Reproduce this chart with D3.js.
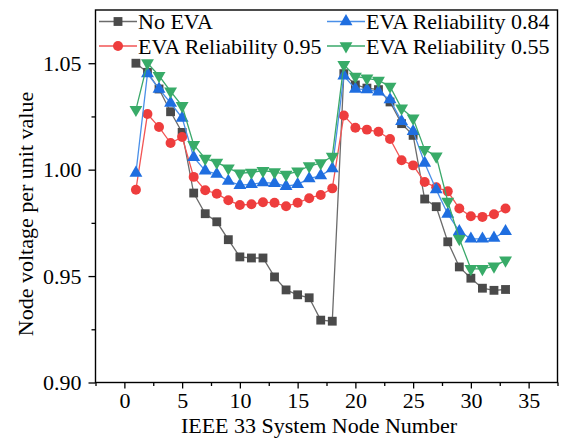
<!DOCTYPE html>
<html>
<head>
<meta charset="utf-8">
<script src="https://cdn.jsdelivr.net/npm/d3@7"></script>
<style>
  body { margin: 0; background: #fff; }
  svg { display: block; }
  svg text { font-family: "Liberation Serif", "Times New Roman", serif; }
</style>
</head>
<body>
<svg id="chart"></svg>
<script>
// node numbers 1..33
const nodes = d3.range(1, 34);

const noEva = [1.0500, 1.0457, 1.0379, 1.0272, 1.0175, 0.9890, 0.9793, 0.9755, 0.9671, 0.9590,
  0.9585, 0.9585, 0.9496, 0.9435, 0.9412, 0.9398, 0.9293, 0.9288, 1.0451, 1.0398,
  1.0383, 1.0376, 1.0318, 1.0216, 1.0161, 0.9862, 0.9826, 0.9661, 0.9543, 0.9490,
  0.9443, 0.9433, 0.9437];

const eva95 = [0.9906, 1.0261, 1.0200, 1.0125, 1.0153, 0.9966, 0.9903, 0.9887, 0.9856, 0.9834,
  0.9837, 0.9847, 0.9844, 0.9828, 0.9844, 0.9866, 0.9881, 0.9912, 1.0254, 1.0197,
  1.0188, 1.0178, 1.0144, 1.0044, 1.0020, 0.9942, 0.9917, 0.9898, 0.9817, 0.9781,
  0.9778, 0.9790, 0.9817];

const eva84 = [0.9984, 1.0451, 1.0379, 1.0313, 1.0243, 1.0058, 0.9995, 0.9979, 0.9946, 0.9927,
  0.9931, 0.9939, 0.9936, 0.9922, 0.9931, 0.9958, 0.9972, 1.0005, 1.0441, 1.0379,
  1.0376, 1.0366, 1.0329, 1.0227, 1.0180, 1.0031, 0.9906, 0.9792, 0.9710, 0.9675,
  0.9675, 0.9679, 0.9710];

const eva55 = [1.0282, 1.0501, 1.0441, 1.0368, 1.0300, 1.0117, 1.0052, 1.0034, 1.0007, 0.9983,
  0.9987, 0.9995, 0.9989, 0.9977, 0.9992, 1.0017, 1.0031, 1.0062, 1.0493, 1.0438,
  1.0429, 1.0419, 1.0391, 1.0288, 1.0241, 1.0094, 1.0063, 0.9851, 0.9675, 0.9534,
  0.9534, 0.9546, 0.9574];

const xTicks = [0, 5, 10, 15, 20, 25, 30, 35];
const yTicks = [0.90, 0.95, 1.00, 1.05];

const series = [
  { name: "No EVA", values: noEva, line: "#6b6b6b", fill: "#4a4a4a", symbol: d3.symbolSquare, size: 78, rot: 0 },
  { name: "EVA Reliability 0.95", values: eva95, line: "#f25555", fill: "#ee3d3d", symbol: d3.symbolCircle, size: 78, rot: 0 },
  { name: "EVA Reliability 0.84", values: eva84, line: "#4a8fe8", fill: "#1f6ee0", symbol: d3.symbolTriangle, size: 72, rot: 0 },
  { name: "EVA Reliability 0.55", values: eva55, line: "#3aa86a", fill: "#38ab68", symbol: d3.symbolTriangle, size: 72, rot: 180 }
];

const width = 573;
const height = 439;
const margin = { left: 95.5, right: 15.5, top: 10, bottom: 56.5 };
const fontSize = 22;
const serif = "'Liberation Serif', 'Times New Roman', serif";

const svg = d3.select("#chart")
  .attr("width", width)
  .attr("height", height);

svg.append("rect").attr("width", width).attr("height", height).attr("fill", "#fff");

const x = d3.scaleLinear().domain([-2.5, 37.5]).range([margin.left, width - margin.right]);
const y = d3.scaleLinear().domain([0.90, 1.075]).range([height - margin.bottom, margin.top]);

// axes
const xAxis = svg.append("g")
  .attr("transform", `translate(0,${height - margin.bottom})`)
  .call(d3.axisBottom(x).tickValues(xTicks).tickSize(6).tickPadding(4).tickFormat(d3.format("d")));

const xMinor = svg.append("g")
  .attr("transform", `translate(0,${height - margin.bottom})`)
  .call(d3.axisBottom(x).tickValues(d3.range(-2.5, 38, 5)).tickSize(3.5).tickFormat(""));

const yAxis = svg.append("g")
  .attr("transform", `translate(${margin.left},0)`)
  .call(d3.axisLeft(y).tickValues(yTicks).tickSize(7).tickPadding(7).tickFormat(d3.format(".2f")));

const yMinor = svg.append("g")
  .attr("transform", `translate(${margin.left},0)`)
  .call(d3.axisLeft(y).tickValues([0.925, 0.975, 1.025]).tickSize(4).tickFormat(""));

[xAxis, xMinor, yAxis, yMinor].forEach(g => {
  g.attr("font-family", serif).attr("font-size", fontSize);
  g.select(".domain").remove();
  g.selectAll("line").attr("stroke", "#000").attr("stroke-width", 1.3);
  g.selectAll("text").attr("fill", "#000");
});

// frame
svg.append("rect")
  .attr("x", margin.left)
  .attr("y", margin.top)
  .attr("width", width - margin.left - margin.right)
  .attr("height", height - margin.top - margin.bottom)
  .attr("fill", "none")
  .attr("stroke", "#000")
  .attr("stroke-width", 1.4);

// axis titles
svg.append("text")
  .attr("x", 319)
  .attr("y", 433)
  .attr("text-anchor", "middle")
  .attr("font-size", fontSize)
  .text("IEEE 33 System Node Number");

svg.append("text")
  .attr("transform", "translate(33,214) rotate(-90)")
  .attr("text-anchor", "middle")
  .attr("font-size", fontSize)
  .text("Node voltage per unit value");

// series
const line = d3.line()
  .x((d, i) => x(nodes[i]))
  .y(d => y(d));

series.forEach(s => {
  const g = svg.append("g");
  g.append("path")
    .datum(s.values)
    .attr("d", line)
    .attr("fill", "none")
    .attr("stroke", s.line)
    .attr("stroke-width", 1.3);

  g.selectAll("path.marker")
    .data(s.values)
    .join("path")
    .attr("class", "marker")
    .attr("d", d3.symbol().type(s.symbol).size(s.size))
    .attr("transform", (d, i) => `translate(${x(nodes[i])},${y(d)}) rotate(${s.rot})`)
    .attr("fill", s.fill);
});

// legend (two columns, filled column by column)
const legendPos = [
  { lx: 99, ty: 21.5 },
  { lx: 99, ty: 46 },
  { lx: 327, ty: 21.5 },
  { lx: 327, ty: 46 }
];

const legend = svg.append("g");
series.forEach((s, i) => {
  const p = legendPos[i];
  const item = legend.append("g");
  item.append("line")
    .attr("x1", p.lx).attr("x2", p.lx + 38)
    .attr("y1", p.ty).attr("y2", p.ty)
    .attr("stroke", s.line)
    .attr("stroke-width", 1.3);
  item.append("path")
    .attr("d", d3.symbol().type(s.symbol).size(s.size))
    .attr("transform", `translate(${p.lx + 19},${p.ty}) rotate(${s.rot})`)
    .attr("fill", s.fill);
  item.append("text")
    .attr("x", p.lx + 39)
    .attr("y", p.ty + 7.5)
    .attr("font-size", fontSize)
    .text(s.name);
});
</script>
</body>
</html>
